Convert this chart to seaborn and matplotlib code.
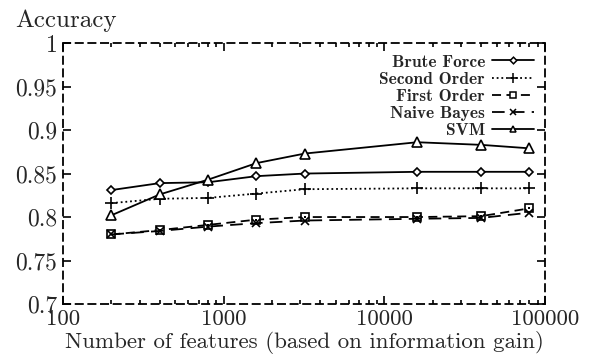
import matplotlib
matplotlib.use("Agg")
import matplotlib.pyplot as plt
import seaborn as sns
import pandas as pd
import numpy as np
from matplotlib.ticker import FixedLocator, FuncFormatter, LogLocator, NullFormatter
from matplotlib.lines import Line2D

# ---- data ----
features = [200, 400, 800, 1600, 3200, 16000, 40000, 80000]
brute_force = [0.831, 0.839, 0.840, 0.847, 0.850, 0.852, 0.852, 0.852]
second_order = [0.816, 0.821, 0.822, 0.827, 0.832, 0.833, 0.833, 0.833]
first_order = [0.780, 0.785, 0.791, 0.797, 0.800, 0.800, 0.801, 0.810]
naive_bayes = [0.780, 0.784, 0.789, 0.793, 0.796, 0.798, 0.799, 0.805]
svm = [0.802, 0.826, 0.843, 0.862, 0.873, 0.886, 0.883, 0.879]
series_names = ["Brute Force", "Second Order", "First Order", "Naive Bayes", "SVM"]
y_ticks = [0.7, 0.75, 0.8, 0.85, 0.9, 0.95, 1.0]
y_tick_labels = ["0.7", "0.75", "0.8", "0.85", "0.9", "0.95", "1"]
x_ticks = [100, 1000, 10000, 100000]
x_tick_labels = ["100", "1000", "10000", "100000"]

sns.set_theme(style="ticks")
plt.rcParams["font.family"] = ["cmr10", "DejaVu Serif"]
plt.rcParams["axes.formatter.use_mathtext"] = True

values = [brute_force, second_order, first_order, naive_bayes, svm]
df = pd.concat([pd.DataFrame({"features": features, "accuracy": v, "method": n})
                for n, v in zip(series_names, values)], ignore_index=True)

styles = {
    "Brute Force": dict(marker="D", ms=4.5, ls="-"),
    "Second Order": dict(marker="+", ms=9, ls=(0, (1.0, 1.6))),
    "First Order": dict(marker="s", ms=5.5, ls=(0, (5, 3))),
    "Naive Bayes": dict(marker="x", ms=5.5, ls=(0, (7, 4))),
    "SVM": dict(marker="^", ms=6.5, ls="-"),
}

fig = plt.figure(figsize=(6.03, 3.56), dpi=100)
ax = fig.add_axes([0.1045, 0.146, 0.7993, 0.733])

for name in series_names:
    st = styles[name]
    sub = df[df["method"] == name]
    sns.lineplot(data=sub, x="features", y="accuracy", ax=ax, color="black",
                 linewidth=1.3, legend=False, marker=st["marker"],
                 markersize=st["ms"], markerfacecolor="white",
                 markeredgecolor="black", markeredgewidth=1.2,
                 linestyle=st["ls"])
# dot inside the square points (First Order)
sub = df[df["method"] == "First Order"]
sns.scatterplot(data=sub, x="features", y="accuracy", ax=ax, color="black",
                marker="s", s=3, linewidth=0, legend=False, zorder=5)

ax.set_xscale("log")
ax.set_xlim(100, 100000)
ax.set_ylim(0.7, 1.0)
ax.xaxis.set_major_locator(FixedLocator(x_ticks))
ax.xaxis.set_major_formatter(FuncFormatter(lambda v, p: x_tick_labels[x_ticks.index(int(round(v)))] if int(round(v)) in x_ticks else ""))
ax.xaxis.set_minor_locator(LogLocator(base=10, subs=np.arange(2, 10)))
ax.xaxis.set_minor_formatter(NullFormatter())
ax.set_yticks(y_ticks)
ax.set_yticklabels(y_tick_labels)

ax.tick_params(axis="both", which="both", direction="in", top=True, right=True,
               color="black", width=1.2, labelsize=17)
ax.tick_params(axis="y", pad=4)
ax.tick_params(axis="x", pad=4, labelsize=16.5)
ax.tick_params(which="major", length=6)
ax.tick_params(which="minor", length=3)
for sp in ax.spines.values():
    sp.set_linestyle((0, (4, 3)))
    sp.set_linewidth(1.3)
    sp.set_color("black")

ax.set_xlabel("")
ax.set_ylabel("")
fig.text((63 + 545) / 2 / 603, 1.5 / 356, "Number of features (based on information gain)",
         fontsize=16.5, ha="center", va="bottom")
fig.text(15 / 603, 1 - 27 / 356, "Accuracy", fontsize=18, ha="left", va="baseline")

handles = []
for name in series_names:
    st = styles[name]
    h = Line2D([], [], color="black", linewidth=1.3, linestyle=st["ls"],
               marker=st["marker"], markersize=st["ms"] * 0.75,
               markerfacecolor="white", markeredgecolor="black",
               markeredgewidth=1.1)
    handles.append(h)
leg = ax.legend(handles, series_names, loc="upper right", frameon=False,
                markerfirst=False, handlelength=2.4, handletextpad=0.4,
                labelspacing=0.12, borderaxespad=0.3, borderpad=0.35,
                prop={"family": ["cmb10", "DejaVu Serif"], "size": 12.5})
for t in leg.get_texts():
    t.set_ha("right")

fig.savefig("out.png", dpi=100)
